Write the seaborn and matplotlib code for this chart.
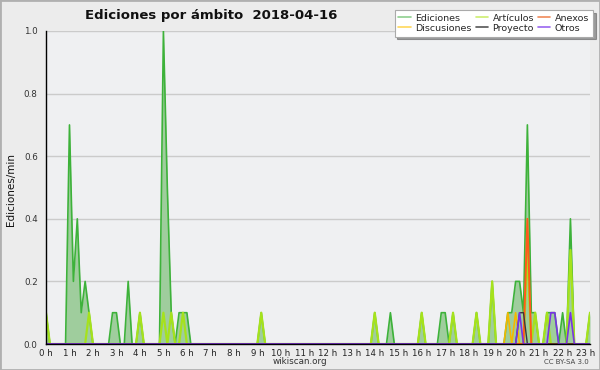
import numpy as np
import pandas as pd
import matplotlib
matplotlib.use("Agg")
import matplotlib.pyplot as plt
import seaborn as sns
from matplotlib.lines import Line2D
from matplotlib.patches import Rectangle

# ---- data: edits per minute in 10-minute bins, 0:00 .. 23:10 (12 bins per row = 2 h)
ediciones = [
    0.1, 0, 0, 0, 0, 0, 0.7, 0.2, 0.4, 0.1, 0.2, 0.1,
    0, 0, 0, 0, 0, 0.1, 0.1, 0, 0, 0.2, 0, 0,
    0.1, 0, 0, 0, 0, 0, 1.0, 0.5, 0.1, 0, 0.1, 0.1,
    0.1, 0, 0, 0, 0, 0, 0, 0, 0, 0, 0, 0,
    0, 0, 0, 0, 0, 0, 0, 0.1, 0, 0, 0, 0,
    0, 0, 0, 0, 0, 0, 0, 0, 0, 0, 0, 0,
    0, 0, 0, 0, 0, 0, 0, 0, 0, 0, 0, 0,
    0.1, 0, 0, 0, 0.1, 0, 0, 0, 0, 0, 0, 0,
    0.1, 0, 0, 0, 0, 0.1, 0.1, 0, 0.1, 0, 0, 0,
    0, 0, 0.1, 0, 0, 0, 0.2, 0, 0, 0, 0.1, 0.1,
    0.2, 0.2, 0.1, 0.7, 0.1, 0.1, 0, 0, 0.1, 0.1, 0.1, 0,
    0.1, 0, 0.4, 0, 0, 0, 0, 0.1,
]
articulos = [
    0.1, 0, 0, 0, 0, 0, 0, 0, 0, 0, 0, 0.1,
    0, 0, 0, 0, 0, 0, 0, 0, 0, 0, 0, 0,
    0.1, 0, 0, 0, 0, 0, 0.1, 0, 0.1, 0, 0, 0.1,
    0, 0, 0, 0, 0, 0, 0, 0, 0, 0, 0, 0,
    0, 0, 0, 0, 0, 0, 0, 0.1, 0, 0, 0, 0,
    0, 0, 0, 0, 0, 0, 0, 0, 0, 0, 0, 0,
    0, 0, 0, 0, 0, 0, 0, 0, 0, 0, 0, 0,
    0.1, 0, 0, 0, 0, 0, 0, 0, 0, 0, 0, 0,
    0.1, 0, 0, 0, 0, 0, 0, 0, 0.1, 0, 0, 0,
    0, 0, 0.1, 0, 0, 0, 0.2, 0, 0, 0, 0, 0,
    0, 0, 0, 0.3, 0, 0.1, 0, 0, 0.1, 0, 0, 0,
    0, 0, 0.3, 0, 0, 0, 0, 0.1,
]
anexos = [
    0, 0, 0, 0, 0, 0, 0, 0, 0, 0, 0, 0,
    0, 0, 0, 0, 0, 0, 0, 0, 0, 0, 0, 0,
    0, 0, 0, 0, 0, 0, 0, 0, 0, 0, 0, 0,
    0, 0, 0, 0, 0, 0, 0, 0, 0, 0, 0, 0,
    0, 0, 0, 0, 0, 0, 0, 0, 0, 0, 0, 0,
    0, 0, 0, 0, 0, 0, 0, 0, 0, 0, 0, 0,
    0, 0, 0, 0, 0, 0, 0, 0, 0, 0, 0, 0,
    0, 0, 0, 0, 0, 0, 0, 0, 0, 0, 0, 0,
    0, 0, 0, 0, 0, 0, 0, 0, 0, 0, 0, 0,
    0, 0, 0, 0, 0, 0, 0, 0, 0, 0, 0, 0,
    0, 0, 0, 0.4, 0, 0, 0, 0, 0, 0, 0, 0,
    0, 0, 0, 0, 0, 0, 0, 0,
]
discusiones = [
    0, 0, 0, 0, 0, 0, 0, 0, 0, 0, 0, 0,
    0, 0, 0, 0, 0, 0, 0, 0, 0, 0, 0, 0,
    0, 0, 0, 0, 0, 0, 0, 0, 0, 0, 0, 0,
    0, 0, 0, 0, 0, 0, 0, 0, 0, 0, 0, 0,
    0, 0, 0, 0, 0, 0, 0, 0, 0, 0, 0, 0,
    0, 0, 0, 0, 0, 0, 0, 0, 0, 0, 0, 0,
    0, 0, 0, 0, 0, 0, 0, 0, 0, 0, 0, 0,
    0, 0, 0, 0, 0, 0, 0, 0, 0, 0, 0, 0,
    0, 0, 0, 0, 0, 0, 0, 0, 0, 0, 0, 0,
    0, 0, 0, 0, 0, 0, 0, 0, 0, 0, 0.1, 0,
    0.1, 0, 0, 0, 0, 0, 0, 0, 0, 0, 0, 0,
    0, 0, 0, 0, 0, 0, 0, 0,
]
proyecto = [
    0, 0, 0, 0, 0, 0, 0, 0, 0, 0, 0, 0,
    0, 0, 0, 0, 0, 0, 0, 0, 0, 0, 0, 0,
    0, 0, 0, 0, 0, 0, 0, 0, 0, 0, 0, 0,
    0, 0, 0, 0, 0, 0, 0, 0, 0, 0, 0, 0,
    0, 0, 0, 0, 0, 0, 0, 0, 0, 0, 0, 0,
    0, 0, 0, 0, 0, 0, 0, 0, 0, 0, 0, 0,
    0, 0, 0, 0, 0, 0, 0, 0, 0, 0, 0, 0,
    0, 0, 0, 0, 0, 0, 0, 0, 0, 0, 0, 0,
    0, 0, 0, 0, 0, 0, 0, 0, 0, 0, 0, 0,
    0, 0, 0, 0, 0, 0, 0, 0, 0, 0, 0, 0,
    0, 0.1, 0.1, 0, 0, 0, 0, 0, 0, 0, 0, 0,
    0, 0, 0, 0, 0, 0, 0, 0,
]
otros = [
    0, 0, 0, 0, 0, 0, 0, 0, 0, 0, 0, 0,
    0, 0, 0, 0, 0, 0, 0, 0, 0, 0, 0, 0,
    0, 0, 0, 0, 0, 0, 0, 0, 0, 0, 0, 0,
    0, 0, 0, 0, 0, 0, 0, 0, 0, 0, 0, 0,
    0, 0, 0, 0, 0, 0, 0, 0, 0, 0, 0, 0,
    0, 0, 0, 0, 0, 0, 0, 0, 0, 0, 0, 0,
    0, 0, 0, 0, 0, 0, 0, 0, 0, 0, 0, 0,
    0, 0, 0, 0, 0, 0, 0, 0, 0, 0, 0, 0,
    0, 0, 0, 0, 0, 0, 0, 0, 0, 0, 0, 0,
    0, 0, 0, 0, 0, 0, 0, 0, 0, 0, 0, 0,
    0, 0.1, 0, 0, 0, 0, 0, 0, 0, 0.1, 0.1, 0,
    0, 0, 0.1, 0, 0, 0, 0, 0,
]
hour_labels = [f"{h} h" for h in range(24)]
title = "Ediciones por ámbito  2018-04-16"

# ---- style
bg_fig = "#ececec"
bg_ax = "#eff0f2"
sns.set_style("white", {"axes.facecolor": bg_ax, "figure.facecolor": bg_fig})
plt.rcParams["font.family"] = ["DejaVu Sans"]

colors = {
    "Ediciones": "#3db23a",
    "Artículos": "#a6e21c",
    "Anexos": "#ff5a1a",
    "Discusiones": "#f5b800",
    "Proyecto": "#3a3a3a",
    "Otros": "#7a32e6",
}
legend_colors = {
    "Ediciones": "#8fd08f",
    "Artículos": "#cdee70",
    "Anexos": "#f08a5a",
    "Discusiones": "#ffd85a",
    "Proyecto": "#555555",
    "Otros": "#9a66f0",
}

n = len(ediciones)
hours = np.arange(n) / 6.0
df = pd.DataFrame({
    "hora": hours,
    "Ediciones": ediciones,
    "Artículos": articulos,
    "Anexos": anexos,
    "Discusiones": discusiones,
    "Proyecto": proyecto,
    "Otros": otros,
})

fig = plt.figure(figsize=(6.0, 3.7), dpi=100)
fig.patch.set_facecolor(bg_fig)
ax = fig.add_axes([46 / 600, 1 - 344 / 370, 544 / 600, 313 / 370])
ax.set_facecolor(bg_ax)

for yv in [0.2, 0.4, 0.6, 0.8, 1.0]:
    ax.axhline(yv, color="#cbcbcb", lw=1.0, zorder=0)

ax.fill_between(df["hora"], 0, df["Ediciones"], color="#9fcd9d", alpha=1.0, lw=0, zorder=1)
sns.lineplot(data=df, x="hora", y="Ediciones", ax=ax, color=colors["Ediciones"], lw=1.2, zorder=3)
sns.lineplot(data=df, x="hora", y="Artículos", ax=ax, color=colors["Artículos"], lw=1.6, zorder=4)
sns.lineplot(data=df, x="hora", y="Discusiones", ax=ax, color=colors["Discusiones"], lw=1.2, zorder=5)
sns.lineplot(data=df, x="hora", y="Anexos", ax=ax, color=colors["Anexos"], lw=1.4, zorder=6)
sns.lineplot(data=df, x="hora", y="Proyecto", ax=ax, color=colors["Proyecto"], lw=1.0, zorder=7)
sns.lineplot(data=df, x="hora", y="Otros", ax=ax, color=colors["Otros"], lw=1.2, zorder=8)

ax.set_xlim(0, (n - 1) / 6.0)
ax.set_ylim(0, 1.0)
ax.set_xlabel("")
ax.set_ylabel("")

for s in ["top", "right"]:
    ax.spines[s].set_visible(False)
for s in ["left", "bottom"]:
    ax.spines[s].set_color("black")
    ax.spines[s].set_linewidth(1.0)
    ax.spines[s].set_zorder(10)

ax.set_yticks([0.0, 0.2, 0.4, 0.6, 0.8, 1.0])
ax.set_yticklabels(["0.0", "0.2", "0.4", "0.6", "0.8", "1.0"])
ax.set_yticks(np.arange(0, 1.0001, 0.05), minor=True)
ax.tick_params(axis="y", which="major", length=5, width=1, color="black",
               labelsize=6.3, labelcolor="#333333", pad=1, direction="out")
ax.tick_params(axis="y", which="minor", length=3, width=1, color="black", direction="out")

ax.set_xticks(np.arange(24))
ax.set_xticklabels(hour_labels)
ax.set_xticks(np.arange(n) / 6.0, minor=True)
ax.tick_params(axis="x", which="major", length=3, width=1, color="black",
               labelsize=6.2, labelcolor="#222222", pad=0.5, direction="out")
ax.tick_params(axis="x", which="minor", length=3, width=0.8, color="black", direction="out")

fig.text(85 / 600, 1 - 16 / 370, title, ha="left", va="center",
         fontsize=9.5, fontweight="bold", color="#111111")
fig.text(11 / 600, 1 - 190 / 370, "Ediciones/min", rotation=90, ha="center",
         va="center", fontsize=7.5, color="#111111")
fig.text(300 / 600, 1 - 362 / 370, "wikiscan.org", ha="center", va="center",
         fontsize=6.3, color="#333333")
fig.text(589 / 600, 1 - 362 / 370, "CC BY-SA 3.0", ha="right", va="center",
         fontsize=5, color="#444444")

order = ["Ediciones", "Discusiones", "Artículos", "Proyecto", "Anexos", "Otros"]
handles = [Line2D([0], [0], color=legend_colors[k], lw=1.2) for k in order]
leg = fig.legend(handles, order, loc="upper right", bbox_to_anchor=(593 / 600, 1 - 10 / 370),
                 ncol=3, fontsize=6.8, frameon=True, fancybox=False, shadow=True,
                 handlelength=1.3, handletextpad=0.5, columnspacing=0.4,
                 labelspacing=0.1, borderpad=0.4, borderaxespad=0)
leg.get_frame().set_facecolor("white")
leg.get_frame().set_edgecolor("#aaaaaa")
leg.get_frame().set_linewidth(0.8)

fig.patches.append(Rectangle((0, 0), 1, 1, transform=fig.transFigure, fill=False,
                             edgecolor="#b0b0b0", lw=2, zorder=20))

fig.savefig("out.png", dpi=100, facecolor=bg_fig)
